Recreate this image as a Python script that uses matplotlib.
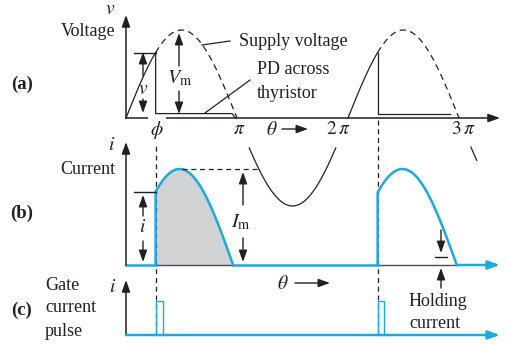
import numpy as np
import matplotlib.pyplot as plt

plt.rcParams['font.family'] = 'serif'
plt.rcParams['font.serif'] = ['Liberation Serif', 'DejaVu Serif']
plt.rcParams['mathtext.fontset'] = 'stix'

# angles are in units of pi
phi = 0.267                 # firing angle
pd_drop = 0.05              # forward PD across the conducting thyristor
pd_end = [0.955, 2.92]      # where the drawn PD flat ends
ext = [0.965, 0.98]         # extinction angle of each current pulse (per cycle)
hold = 0.083                # holding current level (fraction of Im)
gate_w = [0.063, 0.058]     # width of the gate pulses
hidden = -0.33              # negative half is hidden above this level

K = '#231f20'
BLUE = '#1ea8e0'
GREY = '#d1d3d4'

fig = plt.figure(figsize=(5.08, 3.45), dpi=100)
ax = fig.add_axes([0, 0, 1, 1])
ax.set_xlim(-126 / 111, 382 / 111)
ax.set_ylim(345, 0)
ax.axis('off')


def px(x):
    # pixel column -> angle/pi
    return (x - 126) / 111


A0, AS = 118, 88
B0, BS = 265, 96
C0, CS = 335, 34
ya = lambda v: A0 - AS * np.asarray(v, dtype=float)
yb = lambda v: B0 - BS * np.asarray(v, dtype=float)
yc = lambda v: C0 - CS * np.asarray(v, dtype=float)


def arrow(x0, y0, x1, y1, color=K, lw=1.0):
    ax.annotate('', xy=(x1, y1), xytext=(x0, y0),
                arrowprops=dict(arrowstyle='-|>,head_length=0.7,head_width=0.25',
                                color=color, lw=lw, mutation_scale=10,
                                shrinkA=0, shrinkB=0))


def txt(x, y, s, size=13, **kw):
    ax.text(px(x), y, s, fontsize=size, color=K, va='center', **kw)


# ---------- (a) voltage ----------
arrow(0, A0, 0, 15, lw=1.1)
arrow(0, A0, px(500), A0, lw=1.1)
sp = np.sin(np.pi * phi)
for c in [0, 2]:
    t = np.linspace(c, c + phi, 60)
    ax.plot(t, ya(np.sin(np.pi * t)), color=K, lw=0.9)
    t = np.linspace(c + phi, c + 1, 150)
    ax.plot(t, ya(np.sin(np.pi * t)), color=K, lw=0.9, ls=(0, (5, 3.5)))
ax.plot([phi, phi, pd_end[0], 0.985], ya([sp, pd_drop, pd_drop, 0]), color=K, lw=0.9)
ax.plot([2 + phi, 2 + phi, pd_end[1]], ya([sp, pd_drop, pd_drop]), color=K, lw=0.9)
for a, b in [(1, 2), (3, 3.16)]:
    t = np.linspace(a, b, 300)
    v = np.sin(np.pi * t)
    ax.plot(t, ya(np.where(v < hidden, v, np.nan)), color=K, lw=0.9)

# leaders
ax.plot([px(202), px(230)], [45, 41], color=K, lw=0.9)
ax.plot([px(205), px(250)], [113, 80], color=K, lw=0.9)
txt(239, 41, 'Supply voltage')
txt(257, 70, 'PD across')
txt(257, 93, 'thyristor')

# v and Vm dimensions
ax.plot([px(134), phi], ya([sp, sp]), color=K, lw=1.0)
arrow(px(143), 76, px(143), 52)
arrow(px(143), 99, px(143), 113)
txt(143, 89, '$v$', size=14, ha='center')
arrow(px(179), 66, px(179), 33)
arrow(px(179), 91, px(179), 114)
txt(180, 78, '$V_{\\rm m}$', size=14.5, ha='center')

txt(110, 10, '$v$', size=14, ha='center')
txt(115, 31, 'Voltage', ha='right')
txt(22, 84, '(a)', size=13.5, ha='center', fontweight='bold')

# angle labels
ax.text(px(157), 130, '$\\phi$', fontsize=14, ha='center', va='center', color=K,
        bbox=dict(fc='white', ec='none', pad=1.5), zorder=5)
txt(239, 130, '$\\pi$', size=14, ha='center')
txt(272, 130, '$\\theta$', size=14, ha='center')
arrow(px(282), 129, px(308), 129, lw=1.0)
txt(338, 130, '$2\\,\\pi$', size=14, ha='center')
txt(463, 130, '$3\\,\\pi$', size=14, ha='center')

# ---------- (b) current ----------
arrow(0, B0, 0, 142, lw=1.1)
i0 = np.sin(np.pi * phi / ext[0])
for k, c in enumerate([0, 2]):
    t = np.linspace(c + phi, c + ext[k], 200)
    i = np.sin(np.pi * (t - c) / ext[k])
    if k == 0:
        ax.fill_between(t, yb(0), yb(i), color=GREY, lw=0)
    ax.plot([c + phi, c + ext[k]], yb([0, 0]), color='#4d4d4f', lw=1.0)
    ax.plot(np.r_[c + phi, t], yb(np.r_[0, i]), color=BLUE, lw=1.8,
            solid_joinstyle='round')
ax.plot([0, phi], yb([0, 0]), color=BLUE, lw=1.8)
ax.plot([ext[0], 2 + phi], yb([0, 0]), color=BLUE, lw=1.8)
arrow(2 + ext[1], B0, px(500), B0, color=BLUE, lw=1.8)

ax.plot([px(182), px(257)], yb([1, 1]), color=K, lw=0.9, ls=(0, (4, 3)))
arrow(px(243), 205, px(243), 172)
arrow(px(243), 238, px(243), 262)
txt(241, 222, '$I_{\\rm m}$', size=14.5, ha='center')
ax.plot([px(134), phi], yb([i0, i0]), color=K, lw=1.0)
arrow(px(143), 216, px(143), 195)
arrow(px(143), 241, px(143), 262)
txt(143, 228, '$i$', size=14, ha='center')

# holding current marker
arrow(px(441), 230, px(441), 253)
ax.plot([px(435), px(447)], yb([hold, hold]), color=K, lw=1.0)
arrow(px(441), 288, px(441), 268)
txt(409, 302, 'Holding')
txt(409, 324, 'current')

txt(112, 146, '$i$', size=14, ha='center')
txt(115, 170, 'Current', ha='right')
txt(22, 213, '(b)', size=13.5, ha='center', fontweight='bold')

# ---------- (c) gate pulses ----------
arrow(0, C0, 0, 280, lw=1.1)
arrow(0, C0, px(500), C0, color=BLUE, lw=1.8)
for k, c in enumerate([0, 2]):
    s = c + phi
    ax.plot([s, s, s + gate_w[k], s + gate_w[k]], yc([0, 1, 1, 0]), color=BLUE, lw=1.0)

txt(113, 287, '$i$', size=14, ha='center')
txt(22, 310, '(c)', size=13.5, ha='center', fontweight='bold')
txt(45, 285, 'Gate')
txt(45, 308, 'current')
txt(45, 331, 'pulse')
txt(283, 284, '$\\theta$', size=14, ha='center')
arrow(px(295), 283, px(330), 283, lw=1.0)

# firing instants
for c in [0, 2]:
    ax.plot([c + phi, c + phi], [A0 + 2, C0], color=K, lw=0.9, ls=(0, (4, 3)), zorder=1)

plt.savefig('out.png', dpi=100)
